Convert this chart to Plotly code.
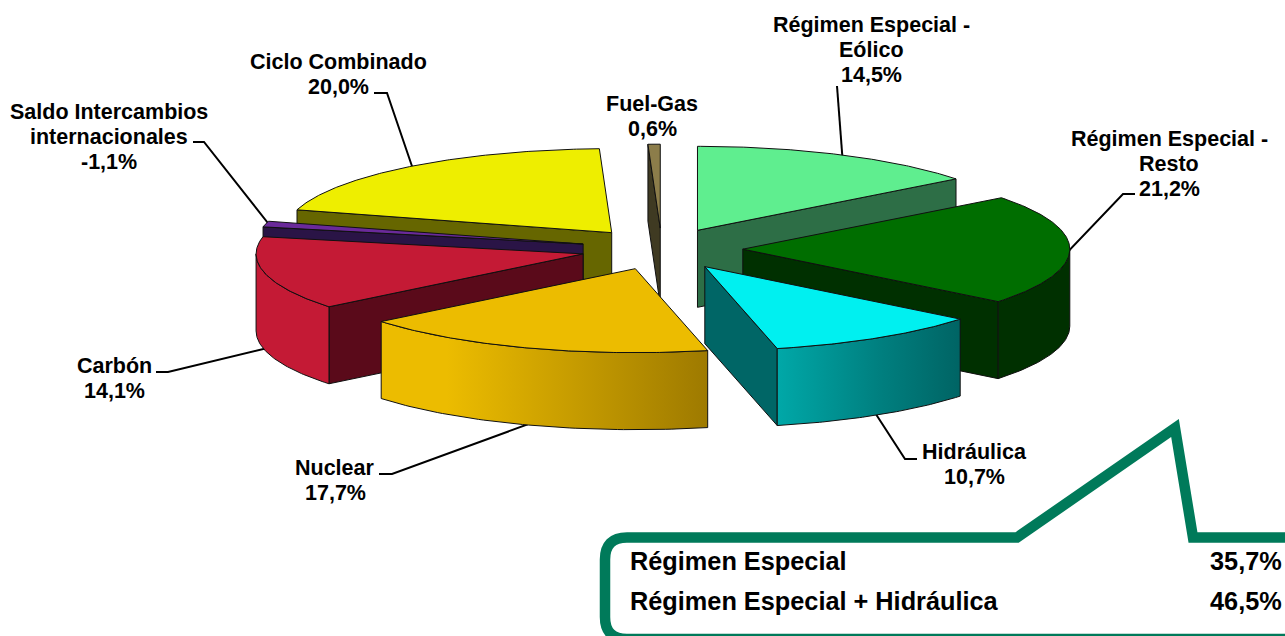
import math
import plotly.graph_objects as go

# ---------- data ----------
names = ["Régimen Especial -<br>Eólico", "Régimen Especial -<br>Resto", "Hidráulica", "Nuclear",
         "Carbón", "Saldo Intercambios<br>internacionales", "Ciclo Combinado", "Fuel-Gas"]
values = [14.5, 21.2, 10.7, 17.7, 14.1, -1.1, 20.0, 0.6]
top_colors = ["#5FEE8F", "#006E00", "#00F0F0", "#ECBC00", "#C41A35", "#6A2A9A", "#EEEE00", "#8C7D4A"]
face_colors = ["#2D6E46", "#003000", "#006666", "#8A6C00", "#5A0A1A", "#2A1446", "#666600", "#3F3A22"]
wall_scales = [None, None,
               [[0, "#00A8A8"], [0.55, "#008080"], [1, "#006464"]],
               [[0, "#ECBC00"], [0.2, "#ECBC00"], [1, "#9E7A00"]],
               None, None, None, None]
wall_colors = ["#2D6E46", "#003000", "#008080", "#ECBC00", "#C41A35", "#2A1446", "#666600", "#3F3A22"]
summary_names = ["Régimen Especial", "Régimen Especial + Hidráulica"]
summary_values = ["35,7%", "46,5%"]

# ---------- projection of the exploded 3D pie ----------
CX, CY = 661.8, 249
RX, RY = 327, 84
DEPTH = 77
EXPLODE = 81
K = RY / RX

fig = go.Figure()


def poly(xs, ys, color, scale=None):
    kw = {}
    if scale:
        kw["fillgradient"] = dict(type="horizontal", colorscale=scale)
    else:
        kw["fillcolor"] = color
    fig.add_trace(go.Scatter(x=xs, y=ys, mode="lines", fill="toself",
                             line=dict(color="#101010", width=1),
                             hoverinfo="skip", showlegend=False, **kw))


# leader lines go first so that the pie covers their inner ends
leaders = [
    ([837, 843], [86, 165]),
    ([1135, 1123, 1060], [194, 194, 260]),
    ([870, 905, 917], [405, 459, 459]),
    ([379, 392, 545], [474, 474, 418]),
    ([156, 168, 280], [372, 372, 345]),
    ([193, 204, 275], [142, 142, 232]),
    ([374, 387, 415], [93, 93, 175]),
]
for lx, ly in leaders:
    fig.add_trace(go.Scatter(x=lx, y=ly, mode="lines", line=dict(color="black", width=2),
                             hoverinfo="skip", showlegend=False))

total = sum(abs(v) for v in values)
slices = []
a = 0.0
for i, v in enumerate(values):
    b = a + abs(v) / total * 360
    slices.append((i, a, b))
    a = b

order = [6, 7, 5, 4, 0, 1, 2, 3]  # painter's order, back to front
for i in order:
    _, a0, a1 = slices[i]
    mid = math.radians((a0 + a1) / 2)
    ax = CX + EXPLODE * math.sin(mid)
    ay = CY - EXPLODE * K * math.cos(mid)
    n = max(2, int((a1 - a0) * 2))
    angs = [a0 + (a1 - a0) * j / n for j in range(n + 1)]
    px = lambda t: ax + RX * math.sin(math.radians(t))
    py = lambda t: ay - RY * math.cos(math.radians(t))
    # cut faces turned towards the viewer
    if math.sin(math.radians(a0)) < -1e-6:
        poly([ax, px(a0), px(a0), ax, ax], [ay, py(a0), py(a0) + DEPTH, ay + DEPTH, ay], face_colors[i])
    if math.sin(math.radians(a1)) > 1e-6:
        poly([ax, px(a1), px(a1), ax, ax], [ay, py(a1), py(a1) + DEPTH, ay + DEPTH, ay], face_colors[i])
    # outer wall (front half only)
    w0, w1 = max(a0, 90), min(a1, 270)
    if w1 > w0:
        wa = [w0 + (w1 - w0) * j / 60 for j in range(61)]
        xs = [px(t) for t in wa] + [px(t) for t in reversed(wa)]
        ys = [py(t) for t in wa] + [py(t) + DEPTH for t in reversed(wa)]
        poly(xs + xs[:1], ys + ys[:1], wall_colors[i], wall_scales[i])
    # top surface
    poly([ax] + [px(t) for t in angs] + [ax], [ay] + [py(t) for t in angs] + [ay], top_colors[i])

# ---------- labels (one annotation per line, 25 px apart) ----------
label_pos = [(871, 25), (1169, 139), (974, 452), (335, 468), (114, 366), (109, 112), (338, 62), (652, 104)]
FONT = "Liberation Sans, Arial, sans-serif"
for name, v, (x, y) in zip(names, values, label_pos):
    pct = f"{v:.1f}%".replace(".", ",")
    for k, line in enumerate(name.split("<br>") + [pct]):
        fig.add_annotation(x=x, y=y + 25 * k, xref="x", yref="y", text=f"<b>{line}</b>", showarrow=False,
                           font=dict(family=FONT, size=21.5, color="black"), align="center")

# ---------- summary callout ----------
GREEN = "#007A5A"
fig.add_shape(type="path", xref="x", yref="y",
              path="M 1300 537.5 L 1193 537.5 L 1175 428 L 1017 537.5 L 627 537.5 "
                   "Q 605 537.5 605 559.5 L 605 617 Q 605 639 627 639 L 1300 639",
              line=dict(color=GREEN, width=10.5), fillcolor="rgba(0,0,0,0)")
for name, val, y in zip(summary_names, summary_values, [561, 601]):
    fig.add_annotation(x=628, y=y, xref="x", yref="y", text=f"<b>{name}</b>", showarrow=False,
                       xanchor="left", font=dict(family=FONT, size=25.3, color="black"))
    fig.add_annotation(x=1284, y=y, xref="x", yref="y", text=f"<b>{val}</b>", showarrow=False,
                       xanchor="right", font=dict(family=FONT, size=25.3, color="black"))

fig.update_layout(
    width=1285, height=636, margin=dict(l=0, r=0, t=0, b=0),
    paper_bgcolor="white", plot_bgcolor="white", showlegend=False,
    xaxis=dict(range=[0, 1285], visible=False, fixedrange=True),
    yaxis=dict(range=[636, 0], visible=False, fixedrange=True),
)
fig.write_html("out.html", config={"displayModeBar": False},
               post_script="document.body.style.margin='0';document.documentElement.style.overflow='hidden';")
